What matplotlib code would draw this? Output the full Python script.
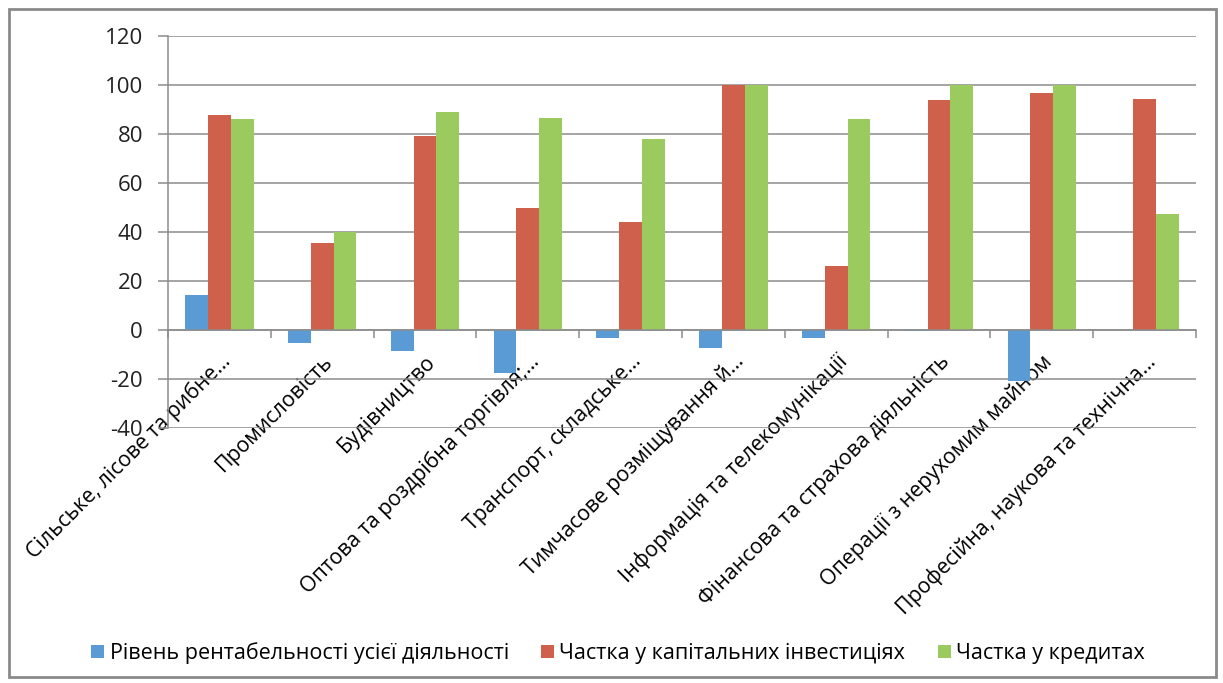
import matplotlib
matplotlib.use("Agg")
import matplotlib.pyplot as plt
import numpy as np
from matplotlib.patches import Rectangle

categories = [
    "Сільське, лісове та рибне…",
    "Промисловість",
    "Будівництво",
    "Оптова та роздрібна торгівля;…",
    "Транспорт, складське…",
    "Тимчасове розміщування й…",
    "Інформація та телекомунікації",
    "Фінансова та страхова діяльність",
    "Операції з нерухомим майном",
    "Професійна, наукова та технічна…",
]
series_names = [
    "Рівень рентабельності усієї діяльності",
    "Частка у капітальних інвестиціях",
    "Частка у кредитах",
]
profitability = [14.3, -5.2, -8.7, -17.4, -3.4, -7.3, -3.4, -0.6, -20.7, 0.0]
capital_share = [87.9, 35.6, 79.2, 49.9, 44.1, 100.0, 26.3, 93.9, 96.9, 94.3]
credit_share = [86.3, 39.9, 88.8, 86.4, 78.0, 100.0, 86.0, 100.0, 100.0, 47.3]
y_ticks = [-40, -20, 0, 20, 40, 60, 80, 100, 120]

colors = ["#5B9BD5", "#CF604C", "#9BCB5E"]
font = ["Open Sans", "DejaVu Sans"]
plt.rcParams["font.family"] = font
plt.rcParams["axes.unicode_minus"] = False

W, H = 1223, 683
fig = plt.figure(figsize=(W / 100, H / 100), dpi=100)
ax = fig.add_axes([168 / W, 1 - 428 / H, (1196 - 168) / W, (428 - 36) / H])

x = np.arange(len(categories))
bw = 1 / 4.5
for j, vals in enumerate([profitability, capital_share, credit_share]):
    ax.bar(x + (j - 1) * bw, vals, width=bw, color=colors[j], label=series_names[j], zorder=3)

ax.set_xlim(-0.5, len(categories) - 0.5)
ax.set_ylim(-40, 120)
ax.set_yticks(y_ticks)
ax.yaxis.grid(True, color="#8c8c8c", linewidth=1.1, zorder=0)
ax.set_axisbelow(True)

for s in ["top", "right"]:
    ax.spines[s].set_visible(False)
ax.spines["left"].set_color("#8c8c8c")
ax.spines["left"].set_linewidth(1.1)
ax.spines["bottom"].set_position(("data", 0))
ax.spines["bottom"].set_color("#8c8c8c")
ax.spines["bottom"].set_linewidth(1.1)
ax.spines["bottom"].set_zorder(4)

ax.set_xticks(x)
ax.set_xticks(np.arange(len(categories) + 1) - 0.5, minor=True)
ax.tick_params(axis="x", which="major", length=0, pad=15)
ax.tick_params(axis="x", which="minor", length=6, color="#8c8c8c", direction="out", width=1.1)
ax.set_xticklabels(categories, rotation=45, ha="right", rotation_mode="anchor",
                   fontsize=15.3, color="black")
ax.tick_params(axis="y", length=7, color="#8c8c8c", width=1.1, labelsize=16, pad=11)
for t in ax.get_yticklabels():
    t.set_color("#222222")

leg = fig.legend(loc="center", bbox_to_anchor=(618 / W, 1 - 653 / H), ncol=3, frameon=False,
                 fontsize=15.5, handlelength=0.6, handleheight=0.6, handletextpad=0.25,
                 columnspacing=1.5)

fig.patches.append(Rectangle((9 / W, 6 / H), (1216 - 9) / W, (676 - 8) / H,
                             transform=fig.transFigure, fill=False,
                             edgecolor="#8a8a8a", linewidth=2, zorder=0))

fig.savefig("out.png", dpi=100, facecolor="white")
